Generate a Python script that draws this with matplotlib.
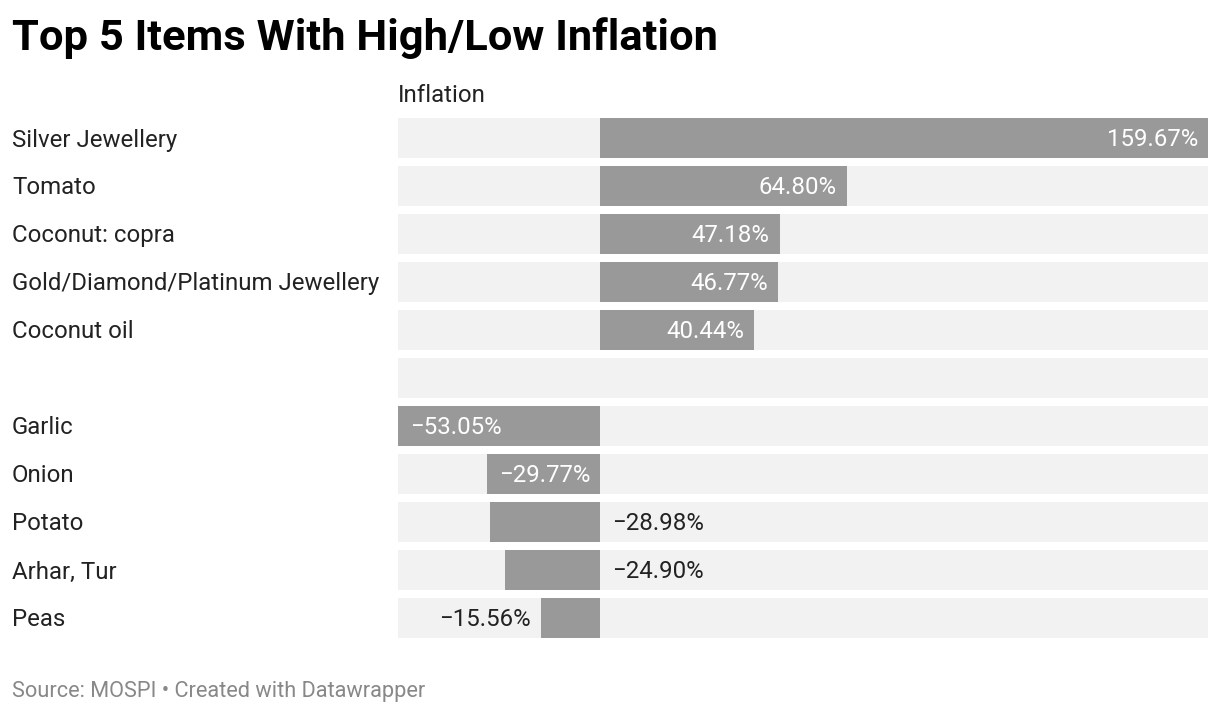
import matplotlib.pyplot as plt

plt.rcParams["font.family"] = ["Roboto", "DejaVu Sans"]

# data
items = ["Silver Jewellery", "Tomato", "Coconut: copra",
         "Gold/Diamond/Platinum Jewellery", "Coconut oil", "",
         "Garlic", "Onion", "Potato", "Arhar, Tur", "Peas"]
inflation = [159.67, 64.80, 47.18, 46.77, 40.44, None,
             -53.05, -29.77, -28.98, -24.90, -15.56]

# where each value label sits (Datawrapper picks this itself)
label_pos = ["in", "in", "in", "in", "in", None,
             "in", "in", "zero", "zero", "out"]

BAR = "#999999"
BG = "#f2f2f2"
TXT = "#222222"

W, H = 1220, 714
fig = plt.figure(figsize=(W / 100, H / 100), dpi=100)
ax = fig.add_axes([398 / W, 1 - 642 / H, 810 / W, 528 / H])

vals = [v for v in inflation if v is not None]
xmin, xmax = min(vals), max(vals)
rows = list(range(len(items)))

ax.barh(rows, [xmax - xmin] * len(rows), left=xmin, height=40 / 48,
        color=BG, linewidth=0)
for i, v in enumerate(inflation):
    if v is None:
        continue
    ax.barh(i, v, height=40 / 48, color=BAR, linewidth=0)

ax.set_xlim(xmin, xmax)
ax.set_ylim(len(items) - 0.5, -0.5)
ax.axis("off")

# px -> data units for padding; small nudge down for text
px = (xmax - xmin) / 810
dy = 2 / 48
fs_val = 17.3
for i, (v, pos) in enumerate(zip(inflation, label_pos)):
    if v is None:
        continue
    s = f"{v:.2f}%".replace("-", "\u2212")
    if v > 0:
        ax.text(v - 10 * px, i + dy, s, ha="right", va="center",
                color="white", fontsize=fs_val)
    elif pos == "in":
        ax.text(v + 12 * px, i + dy, s, ha="left", va="center",
                color="white", fontsize=fs_val)
    elif pos == "zero":
        ax.text(12 * px, i + dy, s, ha="left", va="center", color=TXT,
                fontsize=fs_val)
    else:
        ax.text(v - 10 * px, i + dy, s, ha="right", va="center", color=TXT,
                fontsize=fs_val)

# row labels on the left
for i, name in enumerate(items):
    y = 1 - (140 + 48 * i) / H
    fig.text(12 / W, y, name, ha="left", va="center", color=TXT,
             fontsize=17.3)

fig.text(398 / W, 1 - 96 / H, "Inflation", ha="left", va="center",
         color=TXT, fontsize=17.3)

fig.text(12 / W, 1 - 38 / H, "Top 5 Items With High/Low Inflation",
         ha="left", va="center", fontsize=31.3, fontweight="bold",
         color="#000000")

fig.text(12 / W, 1 - 692 / H, "Source: MOSPI \u2022 Created with Datawrapper",
         ha="left", va="center", fontsize=15.7, color="#888888")

fig.savefig("out.png", dpi=100, facecolor="white")
